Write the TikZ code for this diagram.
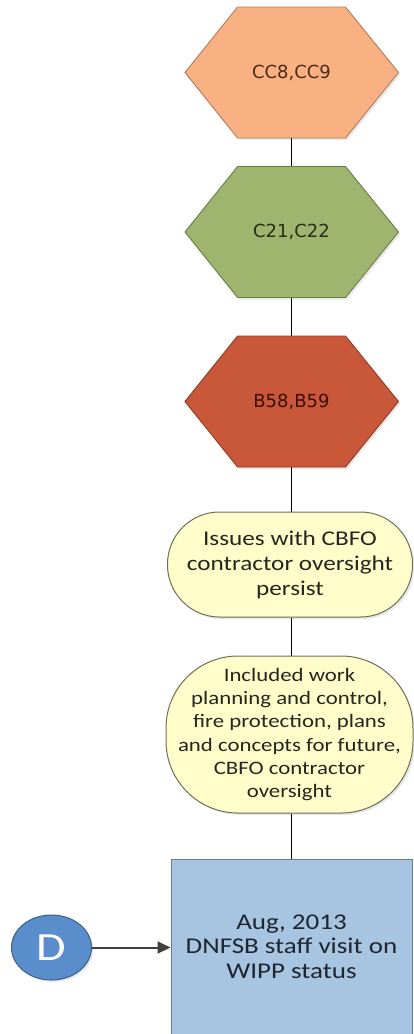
\documentclass[tikz,border=0pt]{standalone}
\usepackage{fontspec}
\setmainfont{Carlito}[FakeStretch=1.2]
\newfontfamily\hexfont{DejaVu Sans}
\usetikzlibrary{arrows.meta,shadows,shapes.geometric}
\definecolor{hexAfill}{HTML}{F9B183}
\definecolor{hexAdraw}{HTML}{B47C58}
\definecolor{hexAtext}{HTML}{4B2C17}
\definecolor{hexBfill}{HTML}{9FB46E}
\definecolor{hexBdraw}{HTML}{6B7D43}
\definecolor{hexBtext}{HTML}{243014}
\definecolor{hexCfill}{HTML}{C9583A}
\definecolor{hexCdraw}{HTML}{8E3B25}
\definecolor{hexCtext}{HTML}{3B0F06}
\definecolor{stadfill}{HTML}{FFFDC9}
\definecolor{staddraw}{HTML}{6F6F57}
\definecolor{stadtext}{HTML}{262620}
\definecolor{rectfill}{HTML}{A7C4E0}
\definecolor{rectdraw}{HTML}{6A7B8C}
\definecolor{recttext}{HTML}{1E2630}
\definecolor{dfill}{HTML}{5A8DCB}
\definecolor{ddraw}{HTML}{3C5E88}
\definecolor{arrowgray}{HTML}{404040}
\tikzset{
  shade/.style={drop shadow={shadow xshift=2pt,shadow yshift=-2pt,opacity=0.18}},
  hexpath/.style={line width=0.9pt, shade},
  hextext/.style={minimum width=108pt, minimum height=131pt, inner sep=0pt,
    font={\hexfont\fontsize{18}{21}\selectfont}},
  stadium/.style={draw=staddraw, fill=stadfill, line width=1pt, align=center,
    inner sep=0pt, text=stadtext, shade},
  stepbox/.style={draw=rectdraw, fill=rectfill, line width=1pt, align=center,
    inner sep=0pt, text=recttext, font={\fontsize{22.5}{24.5}\selectfont}},
  conn/.style={line width=1.8pt, black},
  arr/.style={line width=2pt, arrowgray, -{Triangle[length=13pt,width=12pt]}},
}
\newcommand\hexnode[6]{%
  \path[hexpath, fill=#3, draw=#4] (185,#2) -- ++(52.5,-65.5) -- ++(108,0)
    -- ++(53,65.5) -- ++(-53,65.5) -- ++(-108,0) -- cycle;
  \node[hextext, text=#5] (#1) at (291.5,#2) {#6};
}
\begin{document}
\begin{tikzpicture}[x=1pt,y=-1pt]
\useasboundingbox (0,0) rectangle (413,1034);
\hexnode{h1}{72.5}{hexAfill}{hexAdraw}{hexAtext}{CC8,CC9}
\hexnode{h2}{232}{hexBfill}{hexBdraw}{hexBtext}{C21,C22}
\hexnode{h3}{401.5}{hexCfill}{hexCdraw}{hexCtext}{B58,B59}
\node[stadium, minimum width=245pt, minimum height=105pt, rounded corners=52pt,
  font={\fontsize{21}{25}\selectfont}] (s1) at (290,564.5)
  {Issues with CBFO\\contractor oversight\\persist};
\node[stadium, minimum width=247pt, minimum height=157pt, rounded corners=72pt,
  font={\fontsize{19}{23.3}\selectfont}] (s2) at (289.5,734.5)
  {Included work\\planning and control,\\fire protection, plans\\and concepts for future,\\CBFO contractor\\oversight};
\node[stepbox, minimum width=241pt, minimum height=175pt] (r) at (291.5,946.5)
  {Aug, 2013\\DNFSB staff visit on\\WIPP status};
\node[ellipse, draw=ddraw, fill=dfill, line width=1pt, minimum width=80pt,
  minimum height=65pt, inner sep=0pt, text=white, font={\fontsize{40}{42}\selectfont}, shade]
  (d) at (51.5,947.5) {D};
\draw[conn] (h1.south) -- (h2.north);
\draw[conn] (h2.south) -- (h3.north);
\draw[conn] (h3.south) -- (h3.south |- s1.north);
\draw[conn] (s1.south -| h3.south) -- (h3.south |- s2.north);
\draw[conn] (s2.south -| h3.south) -- (h3.south |- r.north);
\draw[arr] (d.east) -- (r.west |- d.east);
\end{tikzpicture}
\end{document}
